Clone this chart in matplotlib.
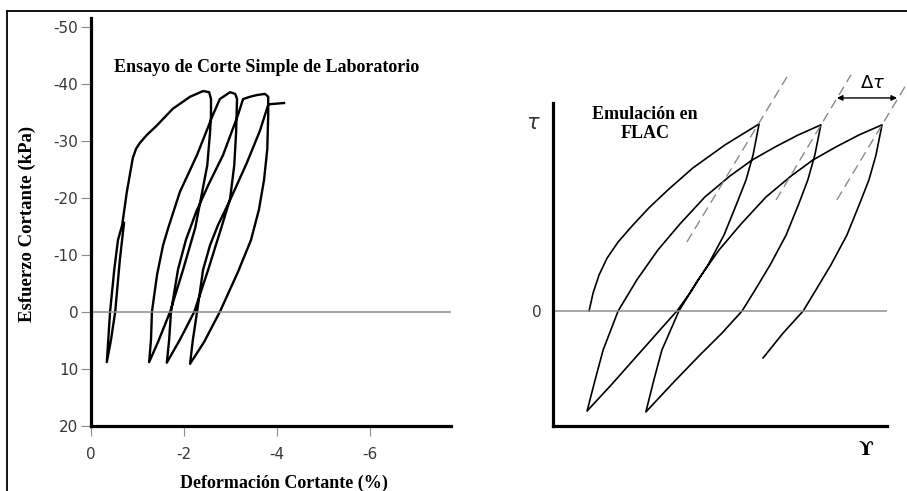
import matplotlib.pyplot as plt
from matplotlib.lines import Line2D

plt.rcParams['font.family'] = 'DejaVu Sans'
plt.rcParams['axes.unicode_minus'] = False

# ensayo de laboratorio: deformacion (%) y esfuerzo (kPa), un solo trazo
lab_strain = [-0.71, -0.62, -0.52, -0.43, -0.34,
              -0.41, -0.50, -0.58, -0.67, -0.77, -0.90, -0.97, -1.05, -1.20, -1.42, -1.63,
              -1.76, -2.13, -2.41, -2.54, -2.58,
              -2.58, -2.56, -2.50, -2.39, -2.24, -1.98, -1.70, -1.44, -1.25,
              -1.29, -1.31, -1.42, -1.55, -1.66, -1.91, -2.28, -2.62, -2.77, -2.99, -3.10,
              -3.14, -3.12, -3.08, -2.99, -2.80, -2.52, -2.22, -1.91, -1.63,
              -1.68, -1.72, -1.87, -2.04, -2.26, -2.52, -2.84, -3.16, -3.27, -3.42, -3.57, -3.74, -3.81,
              -3.81, -3.79, -3.72, -3.61, -3.44, -3.16, -2.77, -2.43, -2.13,
              -2.19, -2.28, -2.41, -2.56, -2.73, -2.99, -3.35, -3.63, -3.81, -3.85, -4.15]
lab_stress = [-15.6, -9.1, 0.0, 4.9, 8.8,
              0.0, -7.4, -12.6, -15.2, -21.0, -27.0, -28.6, -29.6, -31.0, -32.7, -34.5,
              -35.6, -37.7, -38.7, -38.5, -37.3,
              -34.5, -31.5, -25.7, -21.0, -14.7, -7.4, 0.0, 5.3, 8.8,
              4.9, 0.0, -6.5, -11.7, -14.7, -21.0, -27.5, -34.5, -37.3, -38.5, -38.2,
              -37.3, -31.5, -25.7, -19.8, -14.7, -7.4, 0.0, 4.9, 8.9,
              4.9, 0.0, -7.4, -12.6, -17.5, -22.2, -27.5, -34.5, -37.3, -37.7, -38.0, -38.2, -37.7,
              -34.5, -28.5, -23.1, -17.9, -12.6, -7.0, 0.0, 5.3, 9.1,
              4.9, 0.0, -7.4, -11.7, -15.2, -19.6, -26.1, -31.7, -36.3, -36.4, -36.6]

strain_ticks = [0, -2, -4, -6]
stress_ticks = [-50, -40, -30, -20, -10, 0, 10, 20]

# emulacion FLAC (unidades arbitrarias de gamma y tau)
flac_gamma = [1.08, 1.20, 1.38, 1.62, 1.95, 2.37, 2.87, 3.47, 4.19, 5.15, 6.17,
              5.99, 5.78, 5.51, 5.12, 4.64, 4.10, 3.71, 3.20, 2.51, 1.77, 1.02,
              1.26, 1.50, 1.95, 2.51, 3.14, 3.80, 4.55, 5.30, 5.96, 6.65, 7.34, 8.02,
              7.84, 7.63, 7.37, 6.98, 6.50, 6.05, 5.66, 5.06, 4.40, 3.59, 2.78,
              3.02, 3.26, 3.77, 4.34, 4.97, 5.63, 6.38, 7.13, 7.78, 8.47, 9.16, 9.85,
              9.67, 9.46, 9.19, 8.80, 8.32, 7.87, 7.49, 6.89, 6.29]
flac_tau = [0.0, 0.096, 0.193, 0.283, 0.369, 0.455, 0.551, 0.652, 0.765, 0.888, 1.0,
            0.834, 0.701, 0.578, 0.406, 0.246, 0.096, 0.0, -0.102, -0.241, -0.390, -0.535,
            -0.369, -0.209, 0.0, 0.166, 0.326, 0.465, 0.610, 0.722, 0.807, 0.877, 0.941, 0.995,
            0.834, 0.701, 0.578, 0.406, 0.246, 0.112, 0.0, -0.118, -0.235, -0.385, -0.540,
            -0.369, -0.209, 0.0, 0.166, 0.326, 0.465, 0.610, 0.722, 0.807, 0.877, 0.941, 0.995,
            0.834, 0.701, 0.578, 0.406, 0.246, 0.112, 0.0, -0.118, -0.251]

# lineas de trazos por los picos
dash_gamma = [[4.01, 7.04], [6.68, 8.92], [8.50, 10.75]]
dash_tau = [[0.369, 1.262], [0.594, 1.262], [0.594, 1.262]]

W, H = 907, 491
def fx(px):
    return px / W
def fy(py):
    return 1 - py / H

fig = plt.figure(figsize=(W / 100, H / 100), dpi=100)

# marco exterior (cortado a la derecha y abajo)
fig.add_artist(Line2D([fx(7), fx(7)], [0, fy(11)], transform=fig.transFigure, color='black', lw=1.3))
fig.add_artist(Line2D([fx(7), 1], [fy(11), fy(11)], transform=fig.transFigure, color='black', lw=1.3))

serif_bold = dict(family='Liberation Serif', weight='bold')

# ---- panel izquierdo ----
ax1 = fig.add_axes([fx(91), fy(426), (451 - 91) / W, (426 - 18) / H])
ax1.plot(lab_strain, lab_stress, color='black', lw=1.7, solid_joinstyle='round')
ax1.axhline(0, color='#8c8c8c', lw=1.1)
ax1.set_xlim(0, -7.74)
ax1.set_ylim(20, -51.5)
ax1.set_xticks(strain_ticks)
ax1.set_yticks(stress_ticks)
ax1.spines[['top', 'right']].set_visible(False)
for s in ['left', 'bottom']:
    ax1.spines[s].set_linewidth(2.3)
ax1.tick_params(color='#8c8c8c', length=7, width=0.8, labelsize=11, labelcolor='#383838')
ax1.tick_params(axis='x', pad=8)
ax1.tick_params(axis='y', pad=2)

fig.text(fx(267), fy(72), 'Ensayo de Corte Simple de Laboratorio', ha='center', va='baseline',
         fontsize=13, **serif_bold)
fig.text(fx(27), fy(224), 'Esfuerzo Cortante (kPa)', rotation=90, ha='center', va='center',
         fontsize=13.5, **serif_bold)
fig.text(fx(284), fy(488), 'Deformación Cortante (%)', ha='center', va='baseline',
         fontsize=13, **serif_bold)

# ---- panel derecho ----
ax2 = fig.add_axes([fx(553), fy(426), (887 - 553) / W, (426 - 103) / H])
ax2.plot(flac_gamma, flac_tau, color='black', lw=1.2, solid_joinstyle='round')
for g, t in zip(dash_gamma, dash_tau):
    ax2.plot(g, t, color='#8a8a8a', lw=1.0, ls=(0, (7, 4)), clip_on=False)
ax2.axhline(0, color='#8c8c8c', lw=1.1)
ax2.set_xlim(0, 10)
ax2.set_ylim(-0.615, 1.112)
ax2.set_xticks([])
ax2.set_yticks([0])
ax2.tick_params(axis='y', length=0, pad=8, labelsize=11, labelcolor='#383838')
ax2.spines[['top', 'right']].set_visible(False)
for s in ['left', 'bottom']:
    ax2.spines[s].set_linewidth(2.3)

ax2.annotate('', xy=(10.30, 1.139), xytext=(8.50, 1.139), annotation_clip=False,
             arrowprops=dict(arrowstyle='<|-|>', color='black', lw=1.0,
                             shrinkA=0, shrinkB=0, mutation_scale=8))
ax2.text(9.58, 1.219, r'$\Delta\tau$', ha='center', va='center', fontsize=13, clip_on=False)

fig.text(fx(645), fy(119), 'Emulación en', ha='center', va='baseline', fontsize=13, **serif_bold)
fig.text(fx(645), fy(138), 'FLAC', ha='center', va='baseline', fontsize=13, **serif_bold)
fig.text(fx(533), fy(123), r'$\tau$', ha='center', va='center', fontsize=15, color='#333333')
fig.text(fx(866), fy(450), 'ϒ', ha='center', va='center', fontsize=14, family='DejaVu Serif',
         weight='bold')

fig.savefig('out.png', dpi=100)
